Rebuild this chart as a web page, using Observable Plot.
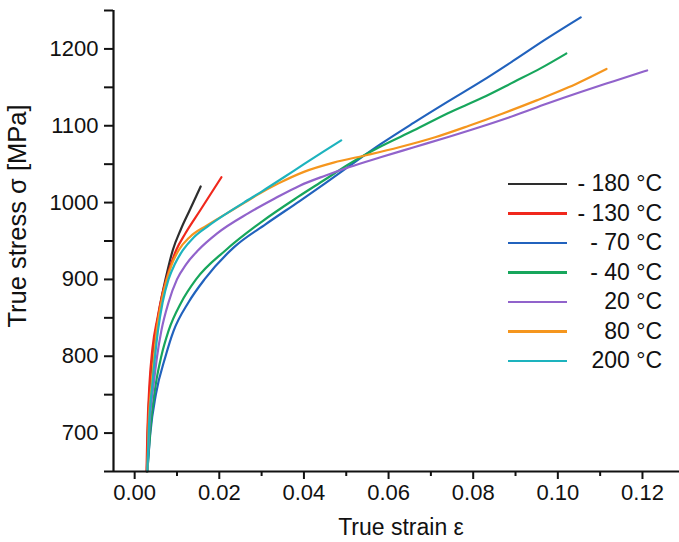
<!DOCTYPE html>
<html>
<head>
<meta charset="utf-8">
<script src="https://cdn.jsdelivr.net/npm/d3@7"></script>
<script src="https://cdn.jsdelivr.net/npm/@observablehq/plot@0.6"></script>
<style>
  html, body { margin: 0; padding: 0; background: #fff; }
  #wrap { position: relative; width: 679px; height: 542px; font-family: "Liberation Sans", Arial, Helvetica, sans-serif; color: #111; }
  #wrap svg { position: absolute; left: 0; top: 0; }
  .lbl { position: absolute; white-space: nowrap; font-size: 23px; line-height: 1; }
  #legend { position: absolute; left: 505px; top: 169px; width: 157px; }
  .row { display: flex; align-items: center; justify-content: space-between; height: 29.5px; }
  .sw { width: 59px; height: 2.5px; margin-left: 3px; }
  .txt { font-size: 23px; text-align: right; line-height: 1; }
</style>
</head>
<body>
<div id="wrap"></div>
<script>
// ---- data ----
const seriesLabels = ["- 180 °C", "- 130 °C", "- 70 °C", "- 40 °C", "20 °C", "80 °C", "200 °C"];
const seriesColors = ["#2e2e2e", "#f0281c", "#2162bd", "#17a65c", "#9163cb", "#f5961e", "#1db3be"];

const strainM180 = [0.0029, 0.0031, 0.0036, 0.0044, 0.0055, 0.0065, 0.0077, 0.0090, 0.0109, 0.0130, 0.0156];
const stressM180 = [650, 700, 760, 810, 850, 880, 910, 938, 965, 990, 1021];

const strainM130 = [0.0028, 0.0030, 0.0035, 0.0042, 0.0054, 0.0065, 0.0080, 0.0098, 0.0120, 0.0155, 0.0205];
const stressM130 = [650, 700, 764, 810, 850, 880, 910, 938, 960, 990, 1033];

const strainM70 = [0.0030, 0.0037, 0.0050, 0.0073, 0.0092, 0.0127, 0.0165, 0.0235, 0.0310, 0.0390, 0.0450, 0.0506, 0.0581, 0.0660, 0.0739, 0.0820, 0.0896, 0.0970, 0.1054];
const stressM70 = [650, 700, 750, 800, 833, 870, 900, 942, 972, 1002, 1025, 1047, 1076, 1104, 1131, 1158, 1185, 1212, 1241];

const strainM40 = [0.0030, 0.0038, 0.0050, 0.0063, 0.0080, 0.0110, 0.0145, 0.0215, 0.0300, 0.0385, 0.0450, 0.0506, 0.0581, 0.0660, 0.0739, 0.0820, 0.0896, 0.0960, 0.1020];
const stressM40 = [650, 710, 764, 800, 833, 870, 900, 938, 975, 1007, 1030, 1050, 1073, 1094, 1116, 1136, 1157, 1175, 1194];

const strainP20 = [0.0030, 0.0035, 0.0045, 0.0053, 0.0063, 0.0080, 0.0100, 0.0122, 0.0150, 0.0195, 0.0268, 0.0330, 0.0390, 0.0450, 0.0506, 0.0581, 0.0660, 0.0739, 0.0820, 0.0896, 0.0975, 0.1054, 0.1132, 0.1211];
const stressP20 = [650, 710, 764, 800, 833, 870, 900, 920, 938, 960, 986, 1005, 1022, 1035, 1046, 1059, 1072, 1085, 1099, 1113, 1129, 1144, 1158, 1172];

const strainP80 = [0.0030, 0.0033, 0.0040, 0.0052, 0.0063, 0.0076, 0.0088, 0.0104, 0.0130, 0.0170, 0.0215, 0.0260, 0.0290, 0.0340, 0.0400, 0.0470, 0.0550, 0.0625, 0.0710, 0.0790, 0.0870, 0.0950, 0.1025, 0.1115];
const stressP80 = [650, 710, 764, 833, 870, 900, 920, 938, 955, 970, 985, 1000, 1010, 1025, 1040, 1052, 1062, 1072, 1085, 1100, 1116, 1133, 1150, 1174];

const strainP200 = [0.0030, 0.0034, 0.0042, 0.0055, 0.0066, 0.0080, 0.0095, 0.0114, 0.0140, 0.0175, 0.0215, 0.0258, 0.0302, 0.0350, 0.0400, 0.0445, 0.0488];
const stressP200 = [650, 710, 764, 833, 870, 900, 920, 938, 955, 970, 985, 1000, 1015, 1032, 1050, 1066, 1081];

const xMajorTicks = [0, 0.02, 0.04, 0.06, 0.08, 0.10, 0.12];
const xMinorTicks = [0.01, 0.03, 0.05, 0.07, 0.09, 0.11];
const yMajorTicks = [700, 800, 900, 1000, 1100, 1200];
const yMinorTicks = [650, 750, 850, 950, 1050, 1150, 1250];

const xTitle = "True strain ε";
const yTitle = "True stress σ [MPa]";

// ---- build table ----
const strains = [strainM180, strainM130, strainM70, strainM40, strainP20, strainP80, strainP200];
const stresses = [stressM180, stressM130, stressM70, stressM40, stressP20, stressP80, stressP200];
const rows = [];
seriesLabels.forEach((s, i) => {
  strains[i].forEach((e, j) => rows.push({series: s, strain: e, stress: stresses[i][j]}));
});

const xMin = -0.005, xMax = 0.12875, yMin = 650, yMax = 1250;

const chart = Plot.plot({
  width: 679,
  height: 542,
  marginLeft: 113,
  marginRight: 0,
  marginTop: 10,
  marginBottom: 71,
  style: {fontFamily: '"Liberation Sans", Arial, Helvetica, sans-serif', fontSize: "22px", color: "#111", background: "transparent"},
  x: {domain: [xMin, xMax]},
  y: {domain: [yMin, yMax]},
  color: {domain: seriesLabels, range: seriesColors},
  marks: [
    Plot.line(rows, {x: "strain", y: "stress", stroke: "series", z: "series", strokeWidth: 2.2, curve: "monotone-x"}),
    Plot.axisX(xMinorTicks, {tickSize: 5, strokeWidth: 2, text: null, label: null}),
    Plot.axisX(xMajorTicks, {tickSize: 8, strokeWidth: 2, tickPadding: 5, tickFormat: d3.format(".2f"), label: null, fontSize: 22}),
    Plot.axisY(yMinorTicks, {tickSize: 9, strokeWidth: 2, text: null, label: null}),
    Plot.axisY(yMajorTicks, {tickSize: 9, strokeWidth: 2, tickPadding: 6, tickFormat: d3.format("d"), label: null, fontSize: 22}),
    Plot.ruleY([yMin], {strokeWidth: 2.2, stroke: "#111"}),
    Plot.ruleX([xMin], {strokeWidth: 2.2, stroke: "#111"})
  ]
});

const wrap = document.getElementById("wrap");
wrap.appendChild(chart);

const xt = document.createElement("div");
xt.className = "lbl";
xt.textContent = xTitle;
xt.style.left = "401px"; xt.style.top = "527px";
xt.style.transform = "translate(-50%, -50%)";
wrap.appendChild(xt);

const yt = document.createElement("div");
yt.className = "lbl";
yt.textContent = yTitle;
yt.style.fontSize = "25.5px";
yt.style.left = "18px"; yt.style.top = "216px";
yt.style.transform = "translate(-50%, -50%) rotate(-90deg)";
wrap.appendChild(yt);

const legend = document.createElement("div");
legend.id = "legend";
seriesLabels.forEach((s, i) => {
  const r = document.createElement("div");
  r.className = "row";
  const sw = document.createElement("div");
  sw.className = "sw";
  sw.style.background = seriesColors[i];
  const t = document.createElement("div");
  t.className = "txt";
  t.textContent = s;
  r.appendChild(sw); r.appendChild(t);
  legend.appendChild(r);
});
wrap.appendChild(legend);
</script>
</body>
</html>
